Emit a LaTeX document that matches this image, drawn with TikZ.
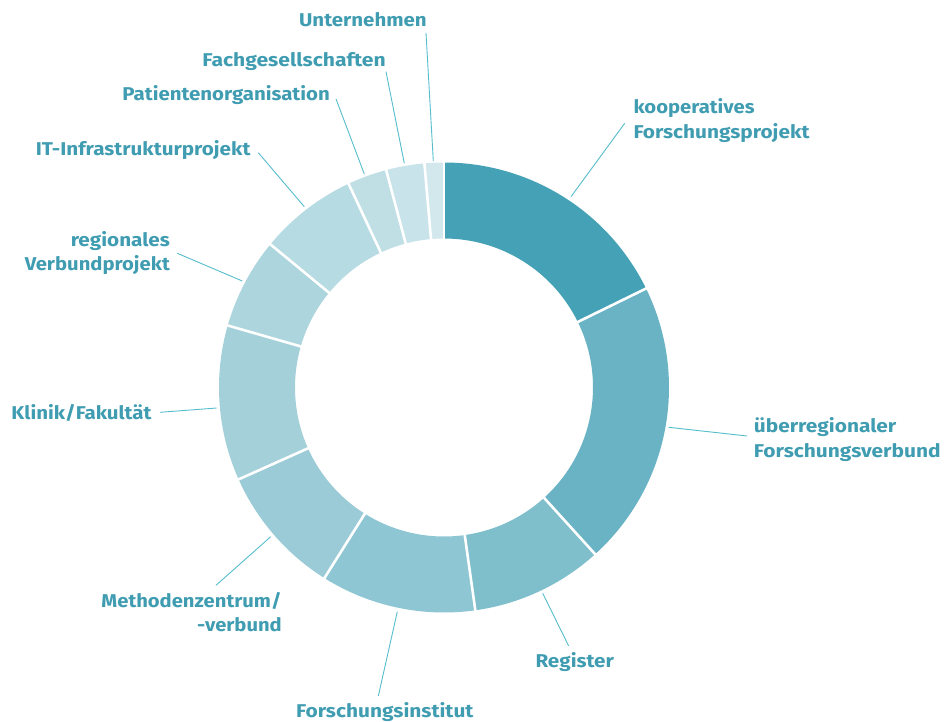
\documentclass[tikz,border=0pt]{standalone}
\usepackage{fontspec}
\usepackage{graphicx}
\setmainfont{Fira Sans}
\definecolor{txt}{HTML}{3F9CB1}
\definecolor{lead}{HTML}{55BDCC}
\definecolor{cA}{HTML}{45A2B6}
\definecolor{cB}{HTML}{6AB3C4}
\definecolor{cC}{HTML}{7FBFCC}
\definecolor{cD}{HTML}{8EC6D3}
\definecolor{cE}{HTML}{9ACBD6}
\definecolor{cF}{HTML}{A4D0DA}
\definecolor{cG}{HTML}{ACD5DD}
\definecolor{cH}{HTML}{B6DBE2}
\definecolor{cI}{HTML}{BFDFE5}
\definecolor{cJ}{HTML}{C8E3E9}
\definecolor{cK}{HTML}{D2E8EC}
\newcommand{\lbl}[2]{\resizebox{#1pt}{\height}{#2}}
\tikzset{
  lab/.style={inner sep=0pt, text=txt, font=\fontsize{18.5}{22}\selectfont\bfseries},
  labL/.style={lab, anchor=base east},
  labR/.style={lab, anchor=base west},
  leader/.style={draw=lead, line width=0.9pt},
  gap/.style={draw=white, line width=2.6pt}
}
\newcommand{\seg}[3]{\fill[#3] (#1:225) arc[start angle=#1, end angle=#2, radius=225] -- (#2:149) arc[start angle=#2, end angle=#1, radius=149] -- cycle;}
\begin{document}
\begin{tikzpicture}[x=1pt,y=1pt]
\useasboundingbox (0,0) rectangle (944,-722);
\begin{scope}[shift={(444,-387.5)}]
  \seg{90}{26.1}{cA}
  \seg{26.1}{-47.8}{cB}
  \seg{-47.8}{-82.0}{cC}
  \seg{-82.0}{-122.1}{cD}
  \seg{-122.1}{-155.9}{cE}
  \seg{-155.9}{-196.0}{cF}
  \seg{-196.0}{-219.5}{cG}
  \seg{-219.5}{-244.9}{cH}
  \seg{-244.9}{-255.1}{cI}
  \seg{-255.1}{-265.0}{cJ}
  \seg{-265.0}{-270}{cK}
  \foreach \a in {90,26.1,-47.8,-82.0,-122.1,-155.9,-196.0,-219.5,-244.9,-255.1,-265.0}
    \draw[gap] (\a:146) -- (\a:228);
\end{scope}
% labels
\node[labL] (unt) at (427,-26.7) {\lbl{127.7}{Unternehmen}};
\node[labL] (fach) at (386,-66.7) {\lbl{183.3}{Fachgesellschaften}};
\node[labL] (pat) at (330,-101) {\lbl{207.3}{Patientenorganisation}};
\node[labL] (it) at (250.7,-155.7) {\lbl{214.7}{IT-Infrastrukturprojekt}};
\node[labL] (reg1) at (170,-246) {\lbl{99}{regionales}};
\node[labL] (reg2) at (170,-270.7) {\lbl{145}{Verbundprojekt}};
\node[labL] (klin) at (151.7,-419.5) {\lbl{140}{Klinik/Fakultät}};
\node[labL] (meth1) at (281.7,-607.3) {\lbl{180}{Methodenzentrum/}};
\node[labL] (meth2) at (282,-631.7) {\lbl{84.7}{-verbund}};
\node[labR] (finst) at (296,-717) {\lbl{177.3}{Forschungsinstitut}};
\node[labR] (regi) at (535.3,-667.3) {\lbl{78.4}{Register}};
\node[labR] (ueb1) at (753.7,-432.7) {\lbl{142.3}{überregionaler}};
\node[labR] (ueb2) at (753.7,-457.3) {\lbl{186.7}{Forschungsverbund}};
\node[labR] (koop1) at (633.3,-113.3) {\lbl{121}{kooperatives}};
\node[labR] (koop2) at (633.3,-138.5) {\lbl{176}{Forschungsprojekt}};
% leader coordinates
\coordinate (untA) at (426,-33);     \coordinate (untB) at (433.3,-161);
\coordinate (fachA) at (386,-71.7);  \coordinate (fachB) at (404.3,-163.3);
\coordinate (patA) at (336,-99);     \coordinate (patB) at (364.3,-174);
\coordinate (itA) at (258.3,-152.7); \coordinate (itB) at (304.3,-206.7);
\coordinate (regA) at (177.3,-253.3);\coordinate (regB) at (242.3,-281);
\coordinate (klinA) at (160,-412.3); \coordinate (klinB) at (216.7,-408);
\coordinate (methA) at (216,-585.3); \coordinate (methB) at (270.7,-536.7);
\coordinate (finstA) at (378.3,-696);\coordinate (finstB) at (397.3,-611.7);
\coordinate (regiA) at (568.7,-646); \coordinate (regiB) at (542.7,-593.3);
\coordinate (uebA) at (747,-436);    \coordinate (uebB) at (668.7,-427.3);
\coordinate (koopA) at (624.7,-123.3);\coordinate (koopB) at (571,-196.7);
\foreach \n in {unt,fach,pat,it,reg,klin,meth,finst,regi,ueb,koop}
  \draw[leader] (\n A) -- (\n B);
\end{tikzpicture}
\end{document}
